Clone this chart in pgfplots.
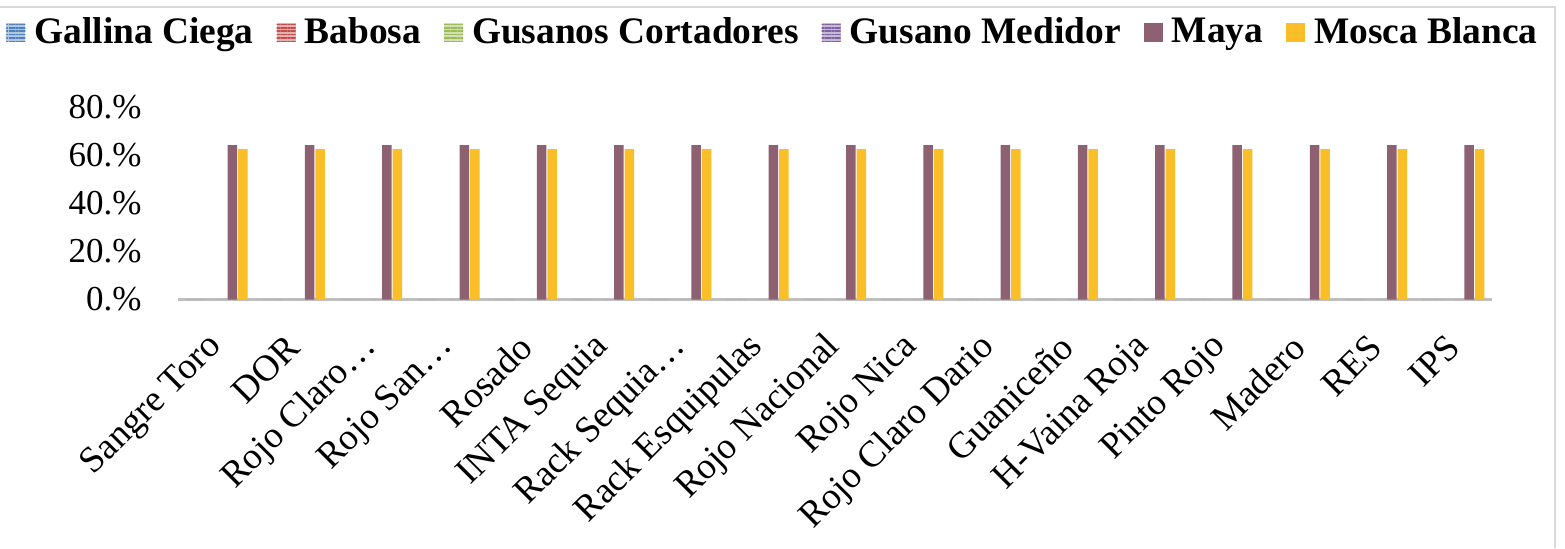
\documentclass[border=0pt]{standalone}
\usepackage{fontspec}
\setmainfont{Liberation Serif}
\usepackage{pgfplots}
\usepackage{pgfplotstable}
\pgfplotsset{compat=1.18}
\usetikzlibrary{patterns.meta}

\definecolor{cBlue}{HTML}{4F81BD}
\definecolor{cRed}{HTML}{C0504D}
\definecolor{cGreen}{HTML}{9BBB59}
\definecolor{cPurple}{HTML}{8064A2}
\definecolor{cMaya}{HTML}{8E6172}
\definecolor{cMosca}{HTML}{F9BE28}
\definecolor{cAxis}{HTML}{BFBFBF}
\definecolor{cFrame}{HTML}{D9D9D9}

% porcentaje de dano por plaga y variedad
\pgfplotstableread{
x gallina babosa gusanos medidor maya mosca
0  0 0 0 0 64.3 62.7
1  0 0 0 0 64.3 62.7
2  0 0 0 0 64.3 62.7
3  0 0 0 0 64.3 62.7
4  0 0 0 0 64.3 62.7
5  0 0 0 0 64.3 62.7
6  0 0 0 0 64.3 62.7
7  0 0 0 0 64.3 62.7
8  0 0 0 0 64.3 62.7
9  0 0 0 0 64.3 62.7
10 0 0 0 0 64.3 62.7
11 0 0 0 0 64.3 62.7
12 0 0 0 0 64.3 62.7
13 0 0 0 0 64.3 62.7
14 0 0 0 0 64.3 62.7
15 0 0 0 0 64.3 62.7
16 0 0 0 0 64.3 62.7
}\datatable

\newcommand{\stripebox}[1]{%
  \fill[#1!45] (0pt,-4.75pt) rectangle (9.5pt,4.75pt);
  \fill[pattern={Lines[angle=0,distance=1.7pt,line width=0.85pt]},pattern color=#1]
    (0pt,-4.75pt) rectangle (9.5pt,4.75pt);}

\begin{document}
\begin{tikzpicture}
\begin{axis}[
  scale only axis,
  width=657pt, height=96pt,
  xmin=-0.5, xmax=16.5,
  ymin=0, ymax=80,
  ybar=0.5pt, bar width=4.75pt,
  axis lines*=left,
  x axis line style={draw=cAxis, line width=1.5pt},
  y axis line style={draw=none},
  major tick length=0pt,
  xtick={0,...,16},
  xticklabels={Sangre Toro, DOR, Rojo Claro…, Rojo  San…, Rosado, INTA Sequia,
    Rack Sequia…, Rack Esquipulas, Rojo Nacional, Rojo Nica, Rojo Claro Dario,
    Guaniceño, H-Vaina Roja, Pinto Rojo, Madero, RES, IPS},
  xticklabel style={font=\fontsize{18.5}{21}\selectfont, yshift=-21pt,
    rotate=45, anchor=east, inner sep=0pt},
  ytick={0,20,40,60,80},
  yticklabels={0.\%,20.\%,40.\%,60.\%,80.\%},
  yticklabel style={font=\fontsize{17.5}{20}\selectfont, anchor=east,
    inner sep=0pt, xshift=-18pt},
  legend columns=6,
  legend style={draw=none, at={(0.4536,1.393)}, anchor=center,
    font=\bfseries\fontsize{18.7}{22}\selectfont,
    /tikz/every odd column/.append style={column sep=2.5pt},
    /tikz/every even column/.append style={column sep=9.5pt},
    nodes={inner sep=2pt}},
]
\addplot[draw=none, fill=cBlue,
  legend image code/.code={\stripebox{cBlue}}] table[x=x, y=gallina] {\datatable};
\addplot[draw=none, fill=cRed,
  legend image code/.code={\stripebox{cRed}}] table[x=x, y=babosa] {\datatable};
\addplot[draw=none, fill=cGreen,
  legend image code/.code={\stripebox{cGreen}}] table[x=x, y=gusanos] {\datatable};
\addplot[draw=none, fill=cPurple,
  legend image code/.code={\stripebox{cPurple}}] table[x=x, y=medidor] {\datatable};
\addplot[draw=none, fill=cMaya,
  legend image code/.code={\fill[cMaya] (0pt,-4.75pt) rectangle (9.5pt,4.75pt);}]
  table[x=x, y=maya] {\datatable};
\addplot[draw=none, fill=cMosca,
  legend image code/.code={\fill[cMosca] (0pt,-4.75pt) rectangle (9.5pt,4.75pt);}]
  table[x=x, y=mosca] {\datatable};
\legend{Gallina Ciega, Babosa, Gusanos Cortadores, Gusano Medidor, Maya, Mosca Blanca}
\end{axis}
\draw[cFrame, line width=1pt] (-89pt,146.5pt) -- (688.5pt,146.5pt) -- (688.5pt,-124.25pt);
\pgfresetboundingbox
\path (-89pt,-124.25pt) rectangle (693.5pt,149.75pt);
\end{tikzpicture}
\end{document}
